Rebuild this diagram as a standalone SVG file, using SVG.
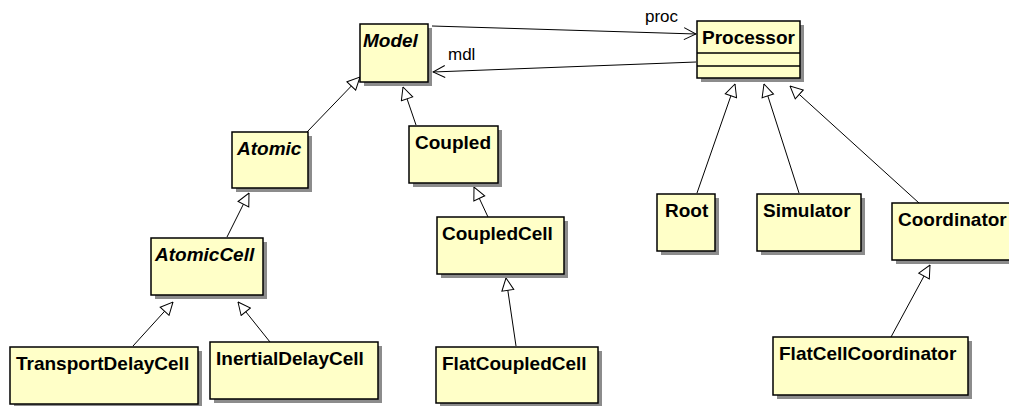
<svg xmlns="http://www.w3.org/2000/svg" width="1009" height="406" viewBox="0 0 1009 406">
<style>
.sh{fill:#8c8c8c}
.bx{fill:#ffffc8;stroke:#000;stroke-width:1.5}
.t{font-family:"Liberation Sans",Arial,sans-serif;font-size:19px;font-weight:bold;fill:#000}
.i{font-style:italic}
.lbl{font-family:"Liberation Sans",Arial,sans-serif;font-size:17px;fill:#000}
.gen{fill:none;stroke:#000;stroke-width:1;marker-end:url(#tri)}
.asc{fill:none;stroke:#000;stroke-width:1;marker-end:url(#open)}
.sep{stroke:#000;stroke-width:1.5}
</style>
<defs>
<marker id="tri" viewBox="0 0 14 14" refX="13.5" refY="7" markerWidth="14" markerHeight="14" markerUnits="userSpaceOnUse" orient="auto">
<path d="M1,1 L13.5,7 L1,13 Z" fill="#fff" stroke="#000" stroke-width="1"/>
</marker>
<marker id="open" viewBox="0 0 14 14" refX="13" refY="7" markerWidth="14" markerHeight="14" markerUnits="userSpaceOnUse" orient="auto">
<path d="M1,1 L13,7 L1,13" fill="none" stroke="#000" stroke-width="1"/>
</marker>
</defs>
<g id="connectors">
<path class="asc" d="M432,26 L696,34"/>
<path class="asc" d="M696,62 L433,72"/>
<text class="lbl" x="645" y="22">proc</text>
<text class="lbl" x="448" y="60">mdl</text>
<path class="gen" d="M307,132 L360,77"/>
<path class="gen" d="M416,125 L403,87"/>
<path class="gen" d="M227,237 L249,193"/>
<path class="gen" d="M488,217 L474,187"/>
<path class="gen" d="M133,346 L173,302"/>
<path class="gen" d="M270,342 L238,302"/>
<path class="gen" d="M516,346 L506,278"/>
<path class="gen" d="M697,193 L735,84"/>
<path class="gen" d="M799,193 L764,84"/>
<path class="gen" d="M919,203 L790,86"/>
<path class="gen" d="M891,337 L930,265"/>
</g>
<g id="Model">
<rect class="sh" x="364" y="28" width="68" height="58"/>
<rect class="bx" x="360" y="24" width="68" height="58"/>
<text class="t i" x="363" y="47">Model</text>
</g>
<g id="Processor">
<rect class="sh" x="701" y="25" width="103" height="57"/>
<rect class="bx" x="697" y="21" width="103" height="57"/>
<line class="sep" x1="697" y1="53" x2="800" y2="53"/>
<line class="sep" x1="697" y1="66" x2="800" y2="66"/>
<text class="t" x="702" y="44">Processor</text>
</g>
<g id="Atomic">
<rect class="sh" x="236" y="136" width="76" height="56"/>
<rect class="bx" x="232" y="132" width="76" height="56"/>
<text class="t i" x="237" y="155">Atomic</text>
</g>
<g id="Coupled">
<rect class="sh" x="413" y="130" width="89" height="57"/>
<rect class="bx" x="409" y="126" width="89" height="57"/>
<text class="t" x="415" y="149">Coupled</text>
</g>
<g id="AtomicCell">
<rect class="sh" x="155" y="242" width="112" height="57"/>
<rect class="bx" x="151" y="238" width="112" height="57"/>
<text class="t i" x="155" y="261">AtomicCell</text>
</g>
<g id="CoupledCell">
<rect class="sh" x="441" y="221" width="127" height="57"/>
<rect class="bx" x="437" y="217" width="127" height="57"/>
<text class="t" x="442" y="240">CoupledCell</text>
</g>
<g id="TransportDelayCell">
<rect class="sh" x="14" y="351" width="188" height="57"/>
<rect class="bx" x="10" y="347" width="188" height="57"/>
<text class="t" x="16" y="370">TransportDelayCell</text>
</g>
<g id="InertialDelayCell">
<rect class="sh" x="214" y="346" width="168" height="57"/>
<rect class="bx" x="210" y="342" width="168" height="57"/>
<text class="t" x="216" y="365">InertialDelayCell</text>
</g>
<g id="FlatCoupledCell">
<rect class="sh" x="440" y="351" width="162" height="56"/>
<rect class="bx" x="436" y="347" width="162" height="56"/>
<text class="t" x="442" y="370">FlatCoupledCell</text>
</g>
<g id="Root">
<rect class="sh" x="661" y="198" width="58" height="57"/>
<rect class="bx" x="657" y="194" width="58" height="57"/>
<text class="t" x="665" y="217">Root</text>
</g>
<g id="Simulator">
<rect class="sh" x="761" y="198" width="104" height="57"/>
<rect class="bx" x="757" y="194" width="104" height="57"/>
<text class="t" x="763" y="217">Simulator</text>
</g>
<g id="Coordinator">
<rect class="sh" x="896" y="207" width="120" height="57"/>
<rect class="bx" x="892" y="203" width="120" height="57"/>
<text class="t" x="898" y="226">Coordinator</text>
</g>
<g id="FlatCellCoordinator">
<rect class="sh" x="777" y="341" width="195" height="58"/>
<rect class="bx" x="773" y="337" width="195" height="58"/>
<text class="t" x="779" y="360">FlatCellCoordinator</text>
</g>
</svg>
